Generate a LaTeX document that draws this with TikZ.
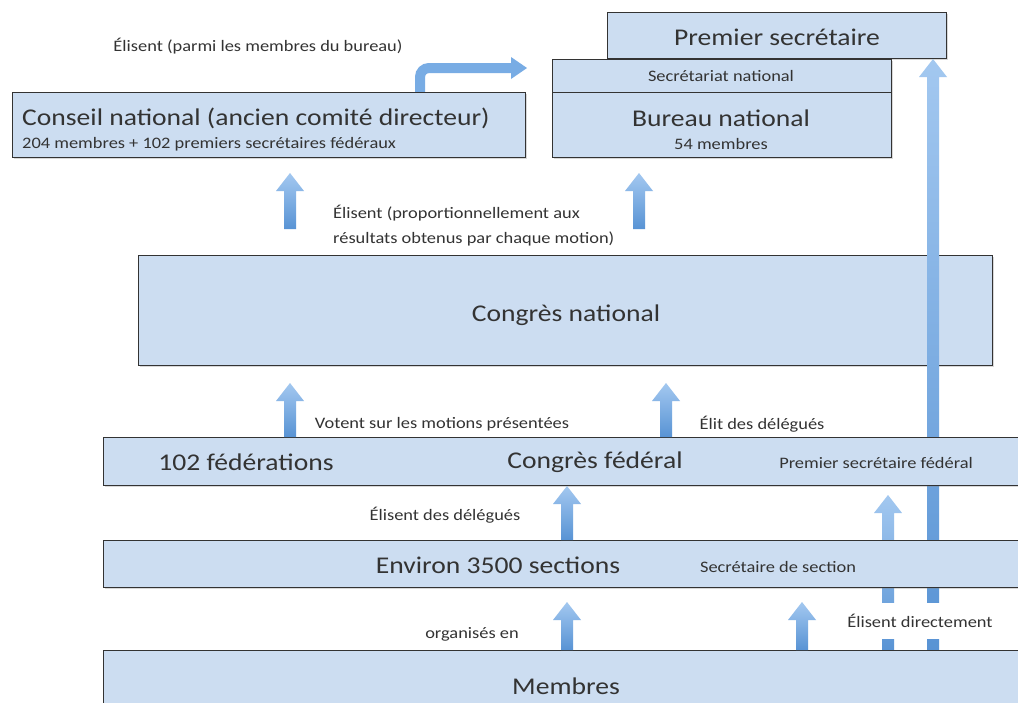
\documentclass[tikz,border=0pt]{standalone}
\usepackage{fontspec}
\setmainfont{Carlito}[FakeStretch=1.15]
\usetikzlibrary{shadows}
\definecolor{boxfill}{HTML}{CCDDF1}
\definecolor{boxline}{HTML}{333333}
\definecolor{txt}{HTML}{333333}
\definecolor{arrtop}{HTML}{A3C8F0}
\definecolor{arrbot}{HTML}{5893D4}
\definecolor{arrmid}{HTML}{78ACE4}
\newcommand{\myuparrow}[3]{%
  \shade[top color=arrtop, bottom color=arrbot]
    (#1-6,#2) -- (#1-6,#3+18) -- (#1-14,#3+18) -- (#1,#3) -- (#1+14,#3+18) -- (#1+6,#3+18) -- (#1+6,#2) -- cycle;}
\tikzset{
  box/.style={draw=boxline, line width=1.4pt, fill=boxfill, anchor=north west, inner sep=0pt,
    drop shadow={shadow xshift=1.5pt, shadow yshift=-1.5pt, opacity=0.3}},
  big/.style={text=txt, font=\fontsize{24}{27}\selectfont, inner sep=0pt},
  small/.style={text=txt, font=\fontsize{16}{19}\selectfont, inner sep=0pt},
  lbl/.style={text=txt, font=\fontsize{16}{25}\selectfont, inner sep=0pt, align=left},
}
\begin{document}
\begin{tikzpicture}[x=1pt, y=-1pt]
\fill[white] (0,0) rectangle (1018,702);
\useasboundingbox (0,0) rectangle (1018,702);

% bent arrow from Conseil national to Bureau
\coordinate (bentstart) at (420,94);
\coordinate (bentend) at (512,68);
\draw[arrmid, line width=10pt, rounded corners=9pt] (bentstart) |- (bentend);
\fill[arrmid] (511,57) -- (527,68) -- (511,79) -- cycle;

% top boxes
\node[box, minimum width=513pt, minimum height=65pt] (conseil) at (12,92) {};
\node[big, anchor=west] (conseilt) at (22,118) {Conseil national (ancien comité directeur)};
\node[small, anchor=west] (conseils) at (22,144) {204 membres + 102 premiers secrétaires fédéraux};

\node[box, minimum width=339pt, minimum height=46pt] (premier) at (607,12) {};
\node[big] (premiert) at (777,37) {Premier secrétaire};

\node[box, minimum width=339pt, minimum height=33pt] (secnat) at (552,59) {};
\node[small] (secnatt) at (721,76) {Secrétariat national};
\node[box, minimum width=339pt, minimum height=65pt] (bureau) at (552,92) {};
\node[big] (bureaut) at (721,118) {Bureau national};
\node[small] (bureaus) at (721,144) {54 membres};

% Congres national
\node[box, minimum width=854pt, minimum height=110pt] (congres) at (138,255) {};
\node[big] (congrest) at (566,315) {Congrès national};

\myuparrow{290}{229}{173}
\myuparrow{639}{229}{173}
\node[lbl, anchor=north west] (lblprop) at (333,205) {Élisent (proportionnellement aux\\résultats obtenus par chaque motion)};
\node[lbl] (lblbur) at (258,46) {Élisent (parmi les membres du bureau)};

% long arrows
\myuparrow{933}{652}{59}
\myuparrow{888}{652}{495}

% lower boxes
\node[box, minimum width=930pt, minimum height=48pt] (fed) at (103,437) {};
\node[big] (fedt) at (246,462) {102 fédérations};
\node[big] (fedc) at (595,462) {Congrès fédéral};
\node[small] (fedp) at (876,463) {Premier secrétaire fédéral};

\node[box, minimum width=930pt, minimum height=47pt] (sections) at (103,540) {};
\node[big] (sectionst) at (498,565) {Environ 3500 sections};
\node[small] (sectionss) at (778,567) {Secrétaire de section};

\node[box, minimum width=930pt, minimum height=70pt] (membres) at (103,650) {};
\node[big] (membrest) at (566,686) {Membres};

% short arrows
\myuparrow{290}{437}{383}
\myuparrow{666}{437}{383}
\myuparrow{567}{540}{486}
\myuparrow{567}{650}{602}
\myuparrow{802}{650}{602}

% labels
\node[lbl] (lblvot) at (442,424) {Votent sur les motions présentées};
\node[lbl] (lblelit) at (762,424) {Élit des délégués};
\node[lbl] (lbldel) at (445,515) {Élisent des délégués};
\node[lbl] (lblorg) at (472,634) {organisés en};
\node[lbl, fill=white, minimum height=36pt, inner xsep=3pt] (lbldir) at (920,621) {Élisent directement};
\end{tikzpicture}
\end{document}
